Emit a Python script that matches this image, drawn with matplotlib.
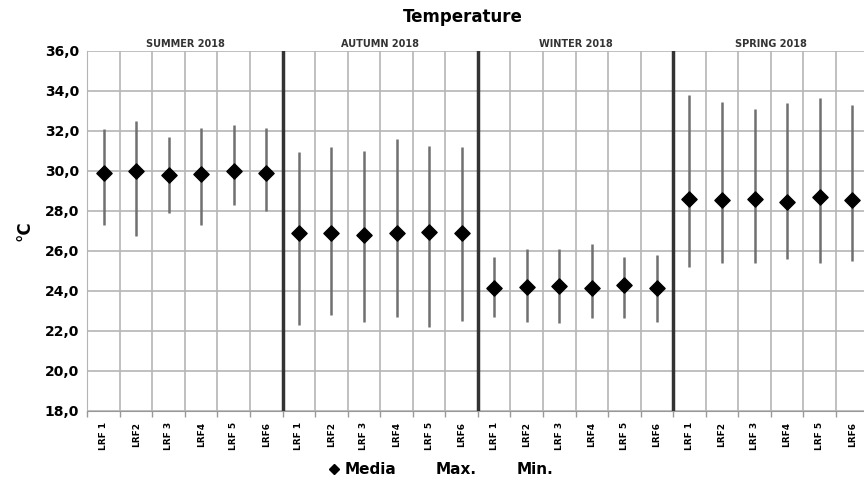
import matplotlib
matplotlib.use("Agg")
import matplotlib.pyplot as plt
from matplotlib.lines import Line2D
import numpy as np

seasons = ["SUMMER 2018", "AUTUMN 2018", "WINTER 2018", "SPRING 2018"]
sites = ["LRF 1", "LRF2", "LRF 3", "LRF4", "LRF 5", "LRF6"]

media = [29.87, 29.98, 29.78, 29.83, 30.00, 29.90,
         26.90, 26.87, 26.80, 26.87, 26.95, 26.87,
         24.12, 24.20, 24.23, 24.12, 24.28, 24.12,
         28.60, 28.55, 28.60, 28.45, 28.70, 28.55]
maxs = [32.1, 32.5, 31.7, 32.15, 32.3, 32.15,
        30.95, 31.2, 31.0, 31.6, 31.25, 31.2,
        25.67, 26.07, 26.07, 26.35, 25.67, 25.77,
        33.8, 33.45, 33.1, 33.37, 33.65, 33.3]
mins = [27.3, 26.75, 27.9, 27.3, 28.3, 28.0,
        22.3, 22.8, 22.45, 22.67, 22.2, 22.5,
        22.67, 22.45, 22.4, 22.63, 22.63, 22.45,
        25.2, 25.4, 25.4, 25.6, 25.4, 25.5]

labels = sites * len(seasons)
x = np.arange(len(labels))

W, H = 864, 484
fig = plt.figure(figsize=(W / 100, H / 100), dpi=100)
left, right, top, bottom = 87.3, 868.5, 50.7, 410.7
ax = fig.add_axes([left / W, 1 - bottom / H, (right - left) / W, (bottom - top) / H])

ax.set_xlim(-0.5, len(labels) - 0.5)
ax.set_ylim(18, 36)

# grid
ax.set_yticks(np.arange(18, 36.1, 2))
ax.set_yticklabels([f"{v:.1f}".replace(".", ",") for v in np.arange(18, 36.1, 2)],
                   fontsize=10, fontweight="bold")
ax.set_xticks(x)
ax.set_xticklabels(labels, rotation=90, fontsize=6.5, fontweight="bold")
ax.set_xticks(np.arange(-0.5, len(labels), 1), minor=True)
ax.tick_params(axis="x", which="major", length=0, pad=8)
ax.tick_params(axis="x", which="minor", length=4, color="#999999", width=1)
ax.tick_params(axis="y", length=0, pad=6)
ax.grid(axis="y", which="major", color="#b5b5b5", lw=1.2)
ax.grid(axis="x", which="minor", color="#b5b5b5", lw=1.2)
ax.set_axisbelow(True)
for s in ["top", "right"]:
    ax.spines[s].set_visible(False)
ax.spines["left"].set_color("#b5b5b5")
ax.spines["bottom"].set_color("#999999")

# season separators
for k in range(1, len(seasons)):
    ax.axvline(k * len(sites) - 0.5, color="#333333", lw=2.5, zorder=3)

# season labels
for k, s in enumerate(seasons):
    ax.text(k * len(sites) + (len(sites) - 1) / 2, 1.006, s, transform=ax.get_xaxis_transform(),
            ha="center", va="bottom", fontsize=7, fontweight="bold", color="#333333")

# high-low lines and means
ax.vlines(x, mins, maxs, color="#707070", lw=1.8, zorder=4)
ax.scatter(x, media, marker="D", s=60, color="black", zorder=5)

ax.set_ylabel("°C", fontsize=12, fontweight="bold", labelpad=8)

fig.text(463 / W, 1 - 17 / H, "Temperature", ha="center", va="center",
         fontsize=12, fontweight="bold")

handles = [Line2D([], [], marker="D", color="black", ls="none", markersize=5),
           Line2D([], [], ls="none"),
           Line2D([], [], ls="none")]
fig.legend(handles, ["Media", "Max.", "Min."], loc="center", bbox_to_anchor=(441 / W, 1 - 470 / H),
           ncol=3, frameon=False, prop={"weight": "bold", "size": 11},
           handlelength=0.7, handletextpad=0.3, columnspacing=1.6)

fig.savefig("out.png", dpi=100)
